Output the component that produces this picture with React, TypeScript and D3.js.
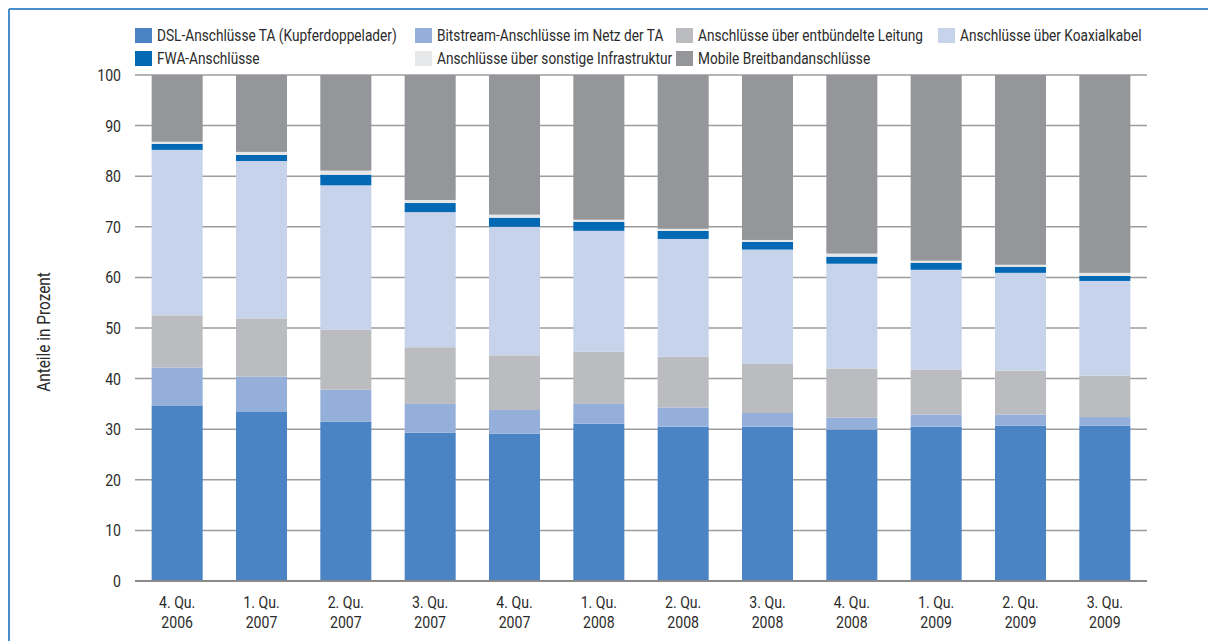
import React from 'react';
import * as d3 from 'd3';

// Kategorien (Quartale)
const quarterLabels = ['4. Qu.', '1. Qu.', '2. Qu.', '3. Qu.', '4. Qu.', '1. Qu.', '2. Qu.', '3. Qu.', '4. Qu.', '1. Qu.', '2. Qu.', '3. Qu.'];
const yearLabels = ['2006', '2007', '2007', '2007', '2007', '2008', '2008', '2008', '2008', '2009', '2009', '2009'];

// Anteile in Prozent je Anschlussart
const dsl = [34.7, 33.4, 31.5, 29.3, 29.1, 31.1, 30.5, 30.5, 29.9, 30.5, 30.7, 30.7];
const bitstream = [7.5, 7.0, 6.3, 5.7, 4.7, 3.9, 3.8, 2.7, 2.4, 2.4, 2.2, 1.7];
const entbuendelt = [10.3, 11.5, 11.9, 11.2, 10.8, 10.3, 10.0, 9.7, 9.7, 8.9, 8.7, 8.2];
const koaxial = [32.7, 31.1, 28.5, 26.7, 25.4, 23.9, 23.3, 22.6, 20.7, 19.7, 19.3, 18.7];
const fwa = [1.2, 1.2, 2.1, 1.8, 1.8, 1.8, 1.6, 1.5, 1.4, 1.4, 1.2, 1.0];
const sonstige = [0.4, 0.6, 0.8, 0.6, 0.6, 0.4, 0.4, 0.4, 0.6, 0.4, 0.4, 0.6];
const mobile = [13.2, 15.2, 18.9, 24.7, 27.6, 28.6, 30.4, 32.6, 35.3, 36.7, 37.5, 39.1];

const seriesNames = [
  'DSL-Anschlüsse TA (Kupferdoppelader)',
  'Bitstream-Anschlüsse im Netz der TA',
  'Anschlüsse über entbündelte Leitung',
  'Anschlüsse über Koaxialkabel',
  'FWA-Anschlüsse',
  'Anschlüsse über sonstige Infrastruktur',
  'Mobile Breitbandanschlüsse',
];
const seriesValues = [dsl, bitstream, entbuendelt, koaxial, fwa, sonstige, mobile];
const seriesColors = ['#4a84c4', '#94b0da', '#bbbcc0', '#c6d3ea', '#0369b5', '#e6e7e8', '#95969a'];

const yTicks = [0, 10, 20, 30, 40, 50, 60, 70, 80, 90, 100];

const W = 1208;
const H = 641;
const FONT = 'Roboto, "Liberation Sans", sans-serif';
const TEXT = '#2b2b2b';

// Text mit horizontal gestauchter Schrift (schmale Schrift nachbilden)
const Label = ({ x, y, rotate = 0, anchor = 'start', size = 17, squeeze = 0.83, children }: any) => (
  <text
    transform={`translate(${x},${y}) rotate(${rotate}) scale(${squeeze},1)`}
    textAnchor={anchor}
    dy="0.35em"
    fontSize={size}
    fill={TEXT}
  >
    {children}
  </text>
);

export default function App() {
  const margin = { top: 75, left: 135, right: 61, bottom: 60 };

  const x = d3
    .scaleBand()
    .domain(d3.range(quarterLabels.length).map(String))
    .range([margin.left, W - margin.right])
    .paddingInner(0.395)
    .paddingOuter(0.1975);

  const y = d3
    .scaleLinear()
    .domain([0, 100])
    .range([H - margin.bottom, margin.top]);

  // Tabelle für d3.stack
  const table = quarterLabels.map((_, i) => {
    const row: Record<string, number> = { idx: i };
    seriesNames.forEach((name, s) => (row[name] = seriesValues[s][i]));
    return row;
  });
  const stacked = d3.stack<Record<string, number>>().keys(seriesNames)(table);

  // Legende: zwei Zeilen
  const legendCols = [135, 415, 676, 938];
  const legendRows = [35, 58];

  return (
    <svg
      width={W}
      height={H}
      style={{ position: 'absolute', left: 0, top: 0, background: '#fff' }}
      fontFamily={FONT}
    >
      {/* Rahmen */}
      <line x1={9} x2={W} y1={9} y2={9} stroke="#4a8dcc" strokeWidth={2} />
      <line x1={9} x2={9} y1={9} y2={H} stroke="#4a8dcc" strokeWidth={2} />

      {/* Legende */}
      {seriesNames.map((name, i) => {
        const lx = legendCols[i % 4];
        const ly = legendRows[Math.floor(i / 4)];
        return (
          <g key={name}>
            <rect x={lx} y={ly - 7} width={17} height={15} fill={seriesColors[i]} />
            <Label x={lx + 22} y={ly} squeeze={0.805}>{name}</Label>
          </g>
        );
      })}

      {/* Gitterlinien */}
      {yTicks.map((t) => (
        <g key={t}>
          <line
            x1={margin.left}
            x2={W - margin.right}
            y1={y(t)}
            y2={y(t)}
            stroke="#9d9d9d"
            strokeWidth={1.5}
          />
          <Label x={121} y={y(t)} anchor="end">{t}</Label>
        </g>
      ))}

      {/* Balken */}
      {stacked.map((layer, s) => (
        <g key={layer.key} fill={seriesColors[s]}>
          {layer.map((d, i) => (
            <rect
              key={i}
              x={x(String(i))}
              y={y(d[1])}
              width={x.bandwidth()}
              height={y(d[0]) - y(d[1])}
            />
          ))}
        </g>
      ))}

      {/* Nulllinie */}
      <line
        x1={margin.left}
        x2={W - margin.right}
        y1={y(0)}
        y2={y(0)}
        stroke="#8a8a8a"
        strokeWidth={2}
      />

      {/* X-Achse */}
      {quarterLabels.map((q, i) => {
        const cx = (x(String(i)) ?? 0) + x.bandwidth() / 2;
        return (
          <g key={i}>
            <Label x={cx} y={y(0) + 21} anchor="middle">{q}</Label>
            <Label x={cx} y={y(0) + 41} anchor="middle">{yearLabels[i]}</Label>
          </g>
        );
      })}

      {/* Y-Achsentitel */}
      <Label x={44} y={(y(0) + y(100)) / 2 + 4} rotate={-90} anchor="middle" size={18.5}>
        Anteile in Prozent
      </Label>
    </svg>
  );
}
